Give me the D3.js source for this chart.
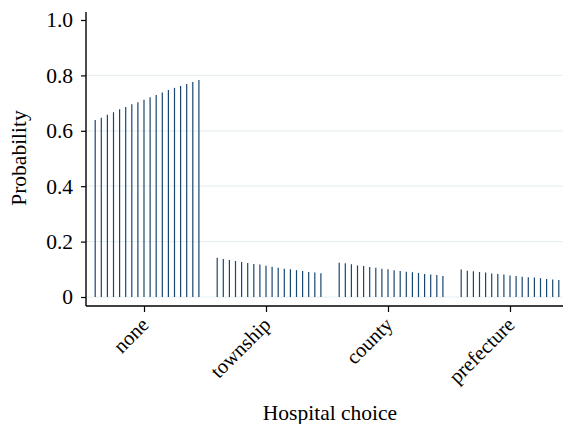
<!DOCTYPE html>
<html>
<head>
<meta charset="utf-8">
<script src="https://cdn.jsdelivr.net/npm/d3@7"></script>
<style>
  html, body { margin: 0; padding: 0; background: #fff; }
  svg { display: block; }
  svg text { font-family: "Liberation Serif", "Times New Roman", serif !important; fill: #000; }
</style>
</head>
<body>
<svg id="chart" width="563" height="424"></svg>
<script>
const categories = ["none", "township", "county", "prefecture"];
const noneVals = [0.639, 0.647, 0.658, 0.667, 0.678, 0.686, 0.696, 0.703, 0.712, 0.721, 0.729, 0.738, 0.747, 0.755, 0.762, 0.769, 0.776, 0.783];
const townshipVals = [0.142, 0.137, 0.134, 0.130, 0.126, 0.123, 0.119, 0.117, 0.113, 0.109, 0.106, 0.102, 0.100, 0.097, 0.094, 0.090, 0.088, 0.086];
const countyVals = [0.124, 0.122, 0.118, 0.114, 0.112, 0.108, 0.106, 0.102, 0.100, 0.097, 0.094, 0.091, 0.089, 0.087, 0.083, 0.081, 0.079, 0.076];
const prefectureVals = [0.099, 0.095, 0.093, 0.090, 0.088, 0.085, 0.083, 0.081, 0.078, 0.076, 0.073, 0.071, 0.070, 0.068, 0.065, 0.063, 0.061, 0.059];
const yTicks = [0, 0.2, 0.4, 0.6, 0.8, 1.0];
const yTickLabels = ["0", "0.2", "0.4", "0.6", "0.8", "1.0"];
const gridTicks = [0, 0.2, 0.4, 0.6, 0.8];
const spikeStep = 0.05;   // offset between spikes within a category (category units)
const spikeCenter = 8;

const seriesByCat = [noneVals, townshipVals, countyVals, prefectureVals];
const FONT = '"Liberation Serif", "Times New Roman", serif';

const svg = d3.select("#chart");
const x = d3.scaleLinear().domain([0, 3]).range([144, 510]);
const y = d3.scaleLinear().domain([0, 1]).range([297, 20]);

const axisLeftX = 86, axisBottomY = 306, axisRightX = 563, axisTopY = 12;

// gridlines
svg.append("g").selectAll("line").data(gridTicks).join("line")
  .attr("x1", axisLeftX).attr("x2", axisRightX)
  .attr("y1", d => y(d)).attr("y2", d => y(d))
  .attr("stroke", "#e9f0f2").attr("stroke-width", 1.2);

// spikes
const spikes = [];
seriesByCat.forEach((vals, c) => vals.forEach((v, i) => spikes.push({ xv: c + (i - spikeCenter) * spikeStep, v })));
svg.append("g").selectAll("line").data(spikes).join("line")
  .attr("x1", d => x(d.xv)).attr("x2", d => x(d.xv))
  .attr("y1", y(0)).attr("y2", d => y(d.v))
  .attr("stroke", "#1a476f").attr("stroke-width", 1.2);

// y axis
const yAxis = d3.axisLeft(y).tickValues(yTicks).tickSize(5).tickPadding(8)
  .tickFormat((d, i) => yTickLabels[i]);
const gy = svg.append("g").attr("transform", `translate(${axisLeftX},0)`).call(yAxis)
  .attr("font-family", null);
gy.select(".domain").remove();
gy.selectAll(".tick line").attr("stroke", "#000").attr("stroke-width", 1.2);
gy.selectAll(".tick text").style("font-size", "21.5px").style("font-family", FONT).attr("fill", "#000");
svg.append("line").attr("x1", axisLeftX).attr("x2", axisLeftX)
  .attr("y1", axisTopY).attr("y2", axisBottomY).attr("stroke", "#000").attr("stroke-width", 1.4);

// x axis
const xAxis = d3.axisBottom(x).tickValues([0, 1, 2, 3]).tickSize(6).tickFormat(() => "");
const gx = svg.append("g").attr("transform", `translate(0,${axisBottomY})`).call(xAxis);
gx.select(".domain").remove();
gx.selectAll(".tick line").attr("stroke", "#000").attr("stroke-width", 1.2);
svg.append("line").attr("x1", axisLeftX).attr("x2", axisRightX)
  .attr("y1", axisBottomY).attr("y2", axisBottomY).attr("stroke", "#000").attr("stroke-width", 1.4);

svg.append("g").selectAll("text").data(categories).join("text")
  .attr("transform", (d, i) => `translate(${x(i) + 6},${axisBottomY + 20}) rotate(-45)`)
  .attr("text-anchor", "end")
  .style("font-family", FONT)
  .style("font-size", "20.5px")
  .text(d => d);

// axis titles
svg.append("text").attr("x", 330).attr("y", 420).attr("text-anchor", "middle")
  .style("font-family", FONT).style("font-size", "21.5px").text("Hospital choice");
svg.append("text").attr("transform", "translate(26,158) rotate(-90)").attr("text-anchor", "middle")
  .style("font-family", FONT).style("font-size", "21.5px").text("Probability");
</script>
</body>
</html>
